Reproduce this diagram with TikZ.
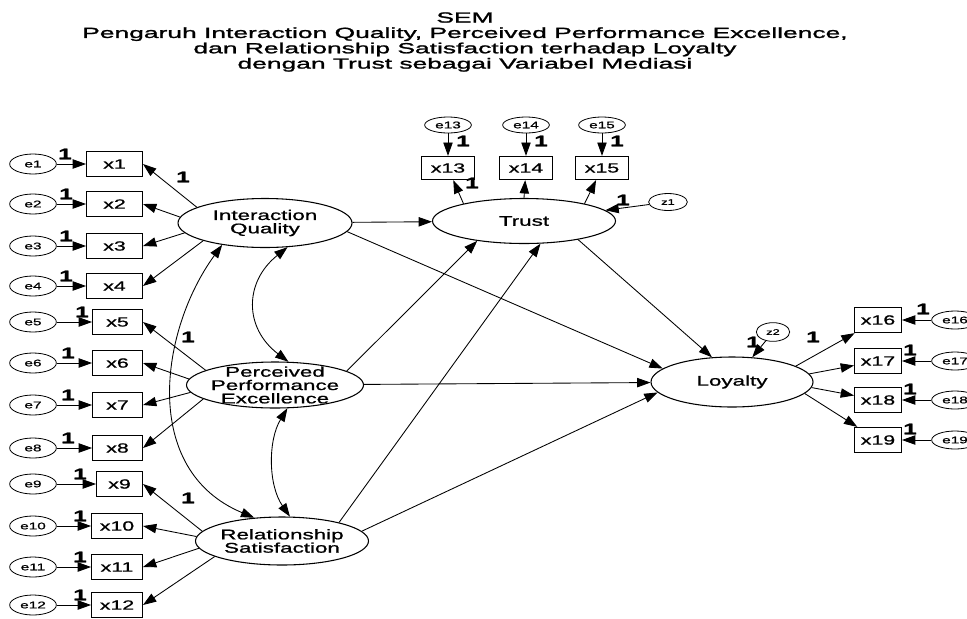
\documentclass[tikz,border=0pt]{standalone}
\usepackage{fontspec}
\setmainfont{Liberation Sans}[FakeStretch=1.6,FakeBold=1]
\newfontfamily\titlefont{Liberation Sans}[FakeStretch=1.8,FakeBold=1.6]
\usetikzlibrary{arrows.meta,shapes.geometric}

\tikzset{
  lat/.style={ellipse, draw, line width=0.8pt, inner sep=-6pt, align=center,
    font=\fontsize{10.5}{10}\selectfont},
  obs/.style={rectangle, draw, line width=0.7pt, inner sep=0pt,
    minimum height=19pt, font=\fontsize{10}{10}\selectfont},
  err/.style={ellipse, draw, line width=0.6pt, inner sep=0pt,
    minimum width=35pt, minimum height=15pt, font=\fontsize{7.2}{8}\selectfont},
  one/.style={inner sep=0pt, font=\bfseries\fontsize{11.5}{12}\selectfont},
  reg/.style={line width=0.65pt, -{Triangle[length=10pt,width=7pt]}},
  cov/.style={line width=0.65pt, {Triangle[length=10pt,width=7pt]}-{Triangle[length=10pt,width=7pt]}}
}

\begin{document}
\begin{tikzpicture}[x=0.75pt,y=-0.75pt]

  \useasboundingbox (0,0) rectangle (967,618);
  \clip (0,0) rectangle (967,618);

  % title
  \node[align=center, font=\titlefont\fontsize{11}{11.5}\selectfont] (title) at (465,42)
    {SEM\\Pengaruh Interaction Quality, Perceived Performance Excellence,\\dan Relationship Satisfaction terhadap Loyalty\\dengan Trust sebagai Variabel Mediasi};

  % latent variables
  \node[lat, minimum width=130.5pt, minimum height=36.75pt] (IQ) at (265,223) {Interaction\\Quality};
  \node[lat, minimum width=132.75pt, minimum height=34.5pt] (PPE) at (275,385) {Perceived\\Performance\\Excellence};
  \node[lat, minimum width=129.75pt, minimum height=36pt] (RS) at (282,541) {Relationship\\Satisfaction};
  \node[lat, minimum width=137.25pt, minimum height=33.75pt] (Trust) at (524,221) {Trust};
  \node[lat, minimum width=121.5pt, minimum height=37.5pt] (Loy) at (732,382) {Loyalty};

  % left indicators
  \foreach \i/\y/\w/\lx in {1/164/56/65, 2/204/56/66, 3/246/56/66, 4/286/56/66,
                           5/322/50/82, 6/363/50/68, 7/405/50/68, 8/448/50/68,
                           9/484/46/80, 10/526/51/80, 11/567/51/80, 12/605/51/80}{
    \node[obs, minimum width=\w*0.75pt, anchor=east] (x\i) at (143,\y) {x\i};
    \node[err] (e\i) at (33,\y) {e\i};
    \draw[reg] (e\i) -- (x\i);
    \node[one] (n\i) at (\lx,\y-10) {1};
  }

  % trust indicators
  \foreach \i/\x in {13/448, 14/526, 15/602}{
    \node[obs, minimum width=40pt, minimum height=17.5pt] (x\i) at (\x,168) {x\i};
    \node[err, minimum height=12pt] (e\i) at (\x,125) {e\i};
    \draw[reg] (e\i) -- (x\i);
    \node[one] (n\i) at (\x+15,141) {1};
  }

  % loyalty indicators
  \foreach \i/\y/\lx in {16/320/923, 17/361/910, 18/400/910, 19/440/910}{
    \node[obs, minimum width=35.25pt] (x\i) at (878,\y) {x\i};
    \node[err, minimum height=13.5pt] (e\i) at (955,\y) {e\i};
    \draw[reg] (e\i) -- (x\i);
    \node[one] (n\i) at (\lx,\y-11) {1};
  }

  % disturbances
  \node[err, minimum width=29pt, minimum height=12.75pt, font=\fontsize{6}{7}\selectfont] (z1) at (668,202) {z1};
  \node[err, minimum width=25pt, minimum height=14pt, font=\fontsize{6}{7}\selectfont] (z2) at (773,332) {z2};
  \draw[reg] (z1) -- (Trust);
  \draw[reg] (z2) -- (Loy);
  \node[one] (nz1) at (623,200) {1};
  \node[one] (nz2) at (753,342) {1};

  % loadings
  \foreach \i/\a in {1/167, 2/176, 3/187, 4/196}
    \draw[reg] (IQ.\a) -- (x\i.east);
  \foreach \i/\a in {5/168, 6/176, 7/185, 8/191}
    \draw[reg] (PPE.\a) -- (x\i.east);
  \foreach \i/\a in {9/173, 10/177, 11/185, 12/193}
    \draw[reg] (RS.\a) -- (x\i.east);
  \draw[reg] (Trust.164) -- (x13);
  \draw[reg] (Trust.90) -- (x14);
  \draw[reg] (Trust.16) -- (x15);
  \foreach \i/\a in {16/14, 17/6, 18/-4, 19/-9}
    \draw[reg] (Loy.\a) -- (x\i);
  \node[one] (nIQ) at (183,177) {1};
  \node[one] (nPPE) at (188,337) {1};
  \node[one] (nRS) at (188,498) {1};
  \node[one] (nTrust) at (472,183) {1};
  \node[one] (nLoy) at (813,337) {1};

  % structural paths
  \draw[reg] (IQ) -- (Trust);
  \draw[reg] (IQ.-6) -- (Loy.169);
  \draw[reg] (PPE.11) -- (Trust.203);
  \draw[reg] (PPE) -- (Loy);
  \draw[reg] (RS.18) -- (Trust.-54);
  \draw[reg] (RS.7) -- (Loy.188);
  \draw[reg] (Trust.-19) -- (Loy.129);

  % covariances
  \draw[cov] (IQ.-47) .. controls (244,282) and (244,328) .. (PPE.60);
  \draw[cov] (PPE.-62) .. controls (268,440) and (268,485) .. (RS.72);
  \draw[cov] (IQ.207) .. controls (160,330) and (140,470) .. (RS.140);

\end{tikzpicture}
\end{document}
